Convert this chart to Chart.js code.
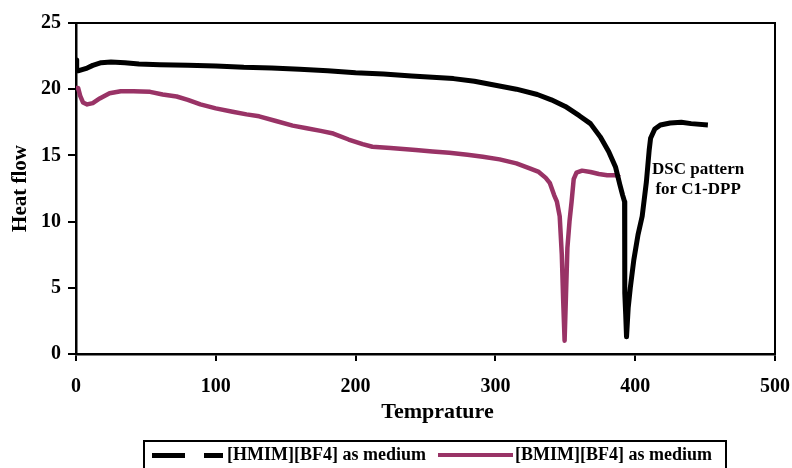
<!DOCTYPE html>
<html>
<head>
<meta charset="utf-8">
<script src="https://cdn.jsdelivr.net/npm/chart.js@4"></script>
<style>
  body { margin: 0; background: #fff; }
  #wrap { position: relative; width: 792px; height: 468px; overflow: hidden; }
  #chart { position: absolute; left: 0; top: 0; }
  #legend { position: absolute; left: 143px; top: 440px; width: 584px; height: 40px;
            border: 2px solid #000; box-sizing: border-box; }
  .leg-line { position: absolute; height: 5px; top: 453px; }
  .leg-text { position: absolute; top: 445px; font: bold 18px "Liberation Serif", serif;
              line-height: 18px; white-space: nowrap; color: #000; }
</style>
</head>
<body>
<div id="wrap">
  <canvas id="chart" width="792" height="468"></canvas>
  <div id="legend"></div>
  <div class="leg-line" style="left:152px;width:33px;background:#000"></div>
  <div class="leg-line" style="left:204px;width:19px;background:#000"></div>
  <div class="leg-text" style="left:227px">[HMIM][BF4] as medium</div>
  <div class="leg-line" style="left:438px;width:75px;height:4px;background:#993366"></div>
  <div class="leg-text" style="left:515px">[BMIM][BF4] as medium</div>
</div>
<script>
// [HMIM][BF4] run (black)
const hmimTemp = [0, 0.5, 2, 5, 8, 12, 18, 25, 35, 45, 60, 80, 100, 120, 140, 160, 180, 200,
  220, 240, 255, 270, 285, 300, 315, 330, 340, 350, 360, 368, 375, 381, 386, 389, 391, 392.4,
  392.6, 392.5, 393.2, 393.8, 395, 396.5, 399, 402, 405, 408, 410, 411, 414, 418, 425, 433, 440, 452];
const hmimHeat = [22.2, 21.4, 21.4, 21.5, 21.6, 21.8, 22.0, 22.05, 22.0, 21.9, 21.85, 21.8, 21.75,
  21.65, 21.6, 21.5, 21.4, 21.25, 21.15, 21.0, 20.9, 20.8, 20.6, 20.3, 20.0, 19.6, 19.2, 18.7,
  18.0, 17.4, 16.4, 15.3, 14.1, 12.8, 12.0, 11.5, 8.0, 4.6, 3.0, 1.3, 3.5, 5.0, 7.1, 9.0, 10.4,
  13.0, 15.4, 16.3, 17.0, 17.3, 17.45, 17.5, 17.4, 17.3];

// [BMIM][BF4] run (purple)
const bmimTemp = [0, 1.5, 3, 5, 8, 12, 17, 24, 32, 41, 53, 62, 72, 80, 89, 100, 112, 122, 131,
  143, 155, 165, 175, 184, 195, 205, 212, 225, 243, 255, 267, 280, 291, 303, 315, 325, 331, 336,
  339, 342, 344, 346, 347.5, 348.5, 349.5, 350.5, 351.5, 353, 354.5, 356, 358, 362, 368, 374,
  380, 386, 389];
const bmimHeat = [20.1, 20.1, 19.5, 19.0, 18.85, 18.95, 19.3, 19.7, 19.85, 19.85, 19.8, 19.6,
  19.45, 19.2, 18.85, 18.55, 18.3, 18.1, 17.95, 17.6, 17.25, 17.05, 16.85, 16.65, 16.2, 15.85,
  15.65, 15.55, 15.4, 15.3, 15.2, 15.05, 14.9, 14.7, 14.4, 14.0, 13.75, 13.3, 12.9, 12.0, 11.5,
  10.4, 7.5, 4.0, 1.0, 4.5, 8.0, 10.0, 11.5, 13.2, 13.7, 13.85, 13.75, 13.6, 13.5, 13.5, 13.35];

const xTicks = [0, 100, 200, 300, 400, 500];
const yTicks = [0, 5, 10, 15, 20, 25];

const serif = '"Liberation Serif", "Times New Roman", serif';

function toPoints(xs, ys) {
    return xs.map((x, i) => ({ x: x, y: ys[i] }));
}

// frame on top/right, x title and the annotation text
const extras = {
    id: 'extras',
    afterDraw(chart) {
        const { ctx, chartArea, scales } = chart;
        ctx.save();
        ctx.strokeStyle = '#000';
        ctx.lineWidth = 2;
        ctx.beginPath();
        ctx.moveTo(chartArea.left, chartArea.top);
        ctx.lineTo(chartArea.right, chartArea.top);
        ctx.lineTo(chartArea.right, chartArea.bottom);
        ctx.stroke();

        ctx.fillStyle = '#000';
        ctx.textAlign = 'center';
        ctx.textBaseline = 'middle';
        ctx.font = 'bold 22px ' + serif;
        ctx.fillText('Temprature', (chartArea.left + chartArea.right) / 2 + 12, 412);

        ctx.font = 'bold 17px ' + serif;
        const ax = scales.x.getPixelForValue(445);
        ctx.fillText('DSC pattern', ax, scales.y.getPixelForValue(13.9));
        ctx.fillText('for C1-DPP', ax, scales.y.getPixelForValue(12.4));
        ctx.restore();
    }
};

new Chart(document.getElementById('chart'), {
    type: 'line',
    data: {
        datasets: [
            {
                label: '[HMIM][BF4] as medium',
                data: toPoints(hmimTemp, hmimHeat),
                borderColor: '#000',
                borderWidth: 5,
                pointRadius: 0,
                tension: 0,
                borderJoinStyle: 'round',
                fill: false
            },
            {
                label: '[BMIM][BF4] as medium',
                data: toPoints(bmimTemp, bmimHeat),
                borderColor: '#993366',
                borderWidth: 4.5,
                pointRadius: 0,
                tension: 0,
                borderJoinStyle: 'round',
                fill: false
            }
        ]
    },
    options: {
        responsive: false,
        animation: false,
        devicePixelRatio: 1,
        layout: { padding: { left: 0, right: 17, top: 23, bottom: 0 } },
        plugins: {
            legend: { display: false },
            tooltip: { enabled: false }
        },
        scales: {
            x: {
                type: 'linear',
                min: 0, max: 500,
                afterBuildTicks: s => { s.ticks = xTicks.map(v => ({ value: v })); },
                afterFit: s => { s.height = 114; s.paddingLeft = 0; s.paddingRight = 0; },
                border: { color: '#000', width: 2.5 },
                grid: { drawOnChartArea: false, color: '#000', lineWidth: 2, tickLength: 7 },
                ticks: { color: '#000', padding: 14, maxRotation: 0,
                         font: { family: serif, size: 20, weight: 'bold' } }
            },
            y: {
                min: 0, max: 25,
                afterBuildTicks: s => { s.ticks = yTicks.map(v => ({ value: v })); },
                afterFit: s => { s.width = 76; s.paddingTop = 0; s.paddingBottom = 0; },
                border: { color: '#000', width: 2.5 },
                grid: { drawOnChartArea: false, color: '#000', lineWidth: 2, tickLength: 8 },
                ticks: { color: '#000', padding: 7,
                         font: { family: serif, size: 20, weight: 'bold' } },
                title: { display: true, text: 'Heat flow', color: '#000',
                         padding: { top: 8 },
                         font: { family: serif, size: 21, weight: 'bold' } }
            }
        }
    },
    plugins: [extras]
});
</script>
</body>
</html>
